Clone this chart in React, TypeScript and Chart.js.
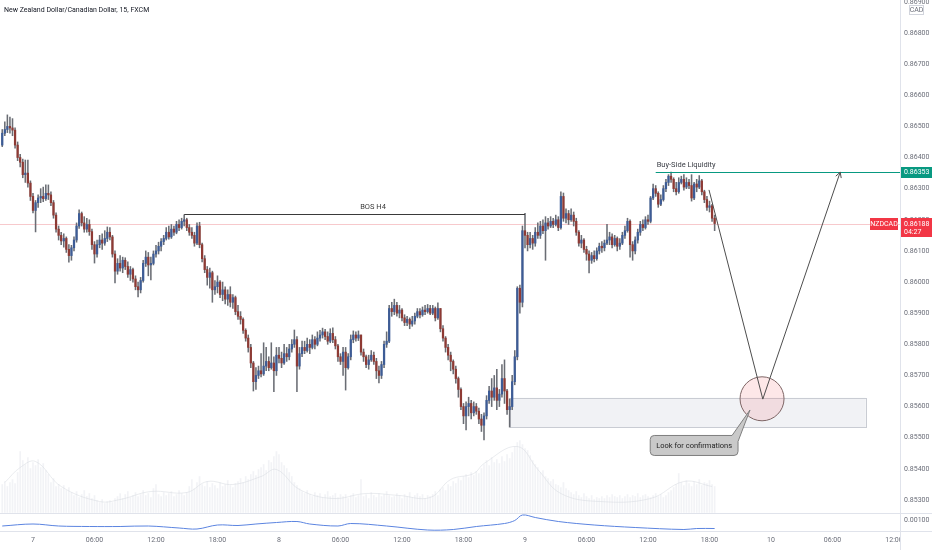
import React, { useEffect, useRef } from "react";
import { Chart, registerables } from "chart.js";

Chart.register(...registerables);

// ---------- DATA (prices in 1e-5 units) ----------
const TITLE = "New Zealand Dollar/Canadian Dollar, 15, FXCM";
const START_T = -12; // candle index of the first candle (15-min bars, 0 = day 7 00:00)
const FIRST_OPEN = 86440;

const closes = [
  86478, 86490, 86500, 86495, 86488, 86440, 86400,
  86385, 86345, 86350, 86318, 86275, 86230, 86255,
  86270, 86275, 86268, 86285, 86280, 86255,
  86215, 86170, 86150, 86132, 86140,
  86105, 86085, 86110,
  86135, 86180, 86220, 86190,
  86170, 86185, 86162,
  86120, 86090,
  86120, 86135, 86125, 86140, 86160, 86145,
  86090, 86035,
  86060, 86045, 86070, 86050, 86025, 86040,
  86010, 85985, 85975, 86005,
  86060, 86080, 86055, 86060, 86090,
  86100, 86115, 86130,
  86140, 86160, 86145, 86170, 86160,
  86185, 86175, 86195, 86200,
  86175, 86160, 86150, 86125, 86180, 86120,
  86075, 86040, 86015, 86030, 85975, 85985,
  86000, 85960, 85975, 85945, 85960, 85935, 85950, 85905, 85890,
  85880, 85845, 85820, 85790, 85740, 85680, 85700,
  85715, 85705, 85730, 85745, 85725, 85740, 85715, 85765,
  85755, 85740, 85770, 85760, 85785, 85800, 85815, 85730, 85770,
  85790, 85780, 85800, 85790, 85815, 85800, 85820,
  85830, 85840, 85825, 85810, 85835, 85815,
  85795, 85760, 85745, 85775, 85725,
  85760, 85815, 85830, 85820, 85830,
  85775, 85760, 85735, 85750, 85765, 85745, 85715, 85700, 85735,
  85800, 85810, 85915, 85905, 85925,
  85900, 85910, 85885, 85870, 85880, 85865, 85875, 85890, 85905,
  85895, 85910, 85905, 85915, 85900, 85915, 85885, 85915,
  85850, 85820, 85790, 85765, 85745, 85720, 85690, 85655,
  85600, 85570, 85600, 85610, 85580, 85600, 85585, 85560, 85540, 85570, 85620,
  85650, 85630, 85660, 85620, 85640, 85690, 85650, 85590, 85600, 85680,
  85760, 85980, 85935, 86165, 86150,
  86120, 86140, 86125, 86160, 86150, 86180, 86165, 86190, 86180, 86195, 86185, 86200, 86175,
  86275, 86205, 86220, 86200, 86215, 86195, 86160,
  86125, 86135, 86105, 86090, 86070, 86085, 86075, 86100, 86115,
  86110, 86125, 86135, 86145, 86120, 86140, 86115, 86125, 86150, 86165,
  86195, 86120, 86100, 86135, 86160, 86185, 86175, 86200, 86195,
  86270, 86300, 86285, 86250, 86265, 86300, 86320,
  86340, 86330, 86300, 86290, 86320, 86330, 86305, 86320, 86310, 86270, 86315, 86305, 86325,
  86290, 86265, 86240, 86245, 86205, 86188,
];

const highs = [
  86490, 86515, 86537, 86530, 86525, 86495, 86450,
  86410, 86395, 86392, 86392, 86325, 86285, 86262,
  86280, 86300, 86305, 86312, 86312, 86290,
  86262, 86222, 86180, 86160, 86155,
  86145, 86120, 86118,
  86145, 86190, 86232, 86225,
  86210, 86205, 86200,
  86170, 86130,
  86135, 86150, 86155, 86165, 86177, 86175,
  86150, 86100,
  86075, 86085, 86080, 86078, 86065, 86050,
  86045, 86020, 86000, 86015,
  86070, 86100, 86095, 86080, 86100,
  86118, 86128, 86140,
  86150, 86175, 86180, 86185, 86180,
  86195, 86200, 86205, 86216,
  86205, 86185, 86175, 86160, 86190, 86192,
  86125, 86085, 86050, 86045, 86035, 86005,
  86020, 86005, 86000, 85985, 85975, 85985, 85960, 85955, 85925,
  85905, 85885, 85850, 85830, 85800, 85745, 85725,
  85730, 85770, 85805, 85790, 85760, 85805, 85760, 85790,
  85790, 85775, 85800, 85790, 85800, 85815, 85846, 85825, 85790,
  85810, 85810, 85820, 85815, 85830, 85825, 85840,
  85845, 85852, 85848, 85840, 85850, 85853,
  85825, 85800, 85770, 85790, 85790,
  85770, 85830, 85843, 85840, 85843,
  85830, 85785, 85765, 85765, 85780, 85775, 85755, 85730, 85745,
  85810, 85840, 85925, 85935, 85945,
  85935, 85925, 85915, 85895, 85890, 85885, 85890, 85900, 85915,
  85915, 85920, 85925, 85928, 85925, 85925, 85920, 85933,
  85915, 85860, 85825, 85800, 85775, 85750, 85730, 85695,
  85660, 85610, 85615, 85630, 85620, 85615, 85610, 85595, 85575, 85580, 85635,
  85665, 85690, 85700, 85720, 85655, 85735, 85750, 85655, 85625, 85700,
  85780, 85985, 85990, 86180, 86221,
  86160, 86160, 86150, 86175, 86190, 86195, 86200, 86210, 86205, 86210, 86205, 86215, 86210,
  86290, 86286, 86235, 86230, 86235, 86225, 86205,
  86165, 86150, 86140, 86115, 86100, 86095, 86100, 86110, 86125,
  86130, 86135, 86185, 86160, 86155, 86150, 86145, 86140, 86160, 86180,
  86205, 86200, 86130, 86145, 86170, 86195, 86200, 86210, 86215,
  86275, 86315, 86310, 86290, 86280, 86310, 86330,
  86345, 86353, 86335, 86320, 86335, 86340, 86345, 86335, 86330, 86345, 86320, 86330, 86342,
  86330, 86295, 86275, 86260, 86250, 86215,
];

const lows = [
  86435, 86470, 86480, 86478, 86470, 86430, 86390,
  86370, 86335, 86320, 86305, 86262, 86222, 86161,
  86240, 86255, 86258, 86262, 86265, 86245,
  86205, 86160, 86135, 86120, 86112,
  86095, 86064, 86070,
  86100, 86128, 86172, 86180,
  86160, 86160, 86150,
  86105, 86061,
  86080, 86110, 86105, 86118, 86130, 86135,
  86080, 85997,
  86025, 86035, 86030, 86040, 86015, 86005,
  86000, 85975, 85952, 85965,
  86000, 86050, 86020, 86007, 86055,
  86080, 86090, 86100,
  86120, 86135, 86138, 86140, 86150,
  86155, 86165, 86170, 86180,
  86165, 86150, 86140, 86115, 86120, 86110,
  86065, 86030, 85990, 85980, 85935, 85960,
  85965, 85950, 85940, 85930, 85925, 85920, 85915, 85895, 85880,
  85865, 85835, 85810, 85775, 85725, 85650, 85655,
  85690, 85695, 85700, 85715, 85715, 85720, 85648, 85700,
  85740, 85725, 85735, 85745, 85750, 85775, 85790, 85648, 85720,
  85760, 85770, 85775, 85770, 85785, 85785, 85795,
  85810, 85820, 85815, 85800, 85805, 85805,
  85785, 85745, 85735, 85700, 85653,
  85720, 85750, 85805, 85810, 85812,
  85765, 85745, 85725, 85720, 85745, 85735, 85690, 85676, 85690,
  85725, 85790, 85805, 85890, 85895,
  85890, 85885, 85875, 85860, 85860, 85850, 85858, 85865, 85885,
  85885, 85890, 85895, 85900, 85895, 85895, 85875, 85880,
  85840, 85810, 85775, 85750, 85715, 85705, 85675, 85630,
  85590, 85545, 85525, 85570, 85560, 85570, 85575, 85545, 85520, 85493, 85560,
  85610, 85600, 85620, 85590, 85600, 85630, 85610, 85575, 85534, 85590,
  85670, 85750, 85900, 85920, 86110,
  86100, 86110, 86105, 86115, 86140, 86140, 86155, 86070, 86170, 86175, 86175, 86180, 86165,
  86170, 86195, 86190, 86185, 86195, 86180, 86150,
  86115, 86110, 86095, 86070, 86029, 86060, 86065, 86070, 86090,
  86095, 86100, 86120, 86120, 86110, 86115, 86100, 86105, 86120, 86140,
  86160, 86080, 86070, 86090, 86125, 86150, 86165, 86170, 86185,
  86190, 86265, 86275, 86240, 86245, 86260, 86290,
  86310, 86320, 86290, 86280, 86285, 86315, 86295, 86300, 86300, 86260, 86265, 86290, 86300,
  86280, 86255, 86230, 86225, 86195, 86165,
];

const volumes = [
  28, 31, 26, 30, 33, 29,
  40, 61,
  52, 48, 55, 44, 50, 47, 53, 45, 49, 42,
  38, 30, 34, 26, 28, 24, 27, 22, 25,
  20, 17, 21, 15, 18, 22, 16, 19, 14, 17,
  12, 10, 13, 9, 11, 12, 10, 14,
  16, 19, 14, 18, 21, 15, 17, 20, 16, 18, 22, 17, 19, 15, 24, 28, 18, 16, 20, 17, 19, 21, 16, 18, 22, 19, 17, 20, 26, 33,
  24, 30, 36, 28, 26, 31, 25, 29, 27, 24, 30, 26, 28, 32, 27, 25, 29, 31, 34, 30, 36, 33, 38, 41, 37, 43,
  45, 48, 42, 52, 50, 56, 61, 58, 50, 47, 44, 40,
  36, 30, 27, 24, 21, 19, 22, 18, 16, 20, 17, 19, 15, 18, 21, 16, 17, 19, 15, 18,
  16, 18, 14, 17, 19, 15, 17, 33, 16, 18, 14, 20, 17, 15, 19, 16, 18, 21, 17, 15, 16, 19, 17, 14, 18, 16, 20, 15, 17, 19, 16, 18, 14, 17, 16,
  18, 21, 17, 23, 25, 22, 28, 26, 31, 29, 34, 32, 36, 38, 35, 40, 37, 41, 39,
  44, 48, 52, 47, 55, 50, 53, 49, 56, 51, 58, 54,
  60, 66, 70, 72, 68, 64, 62, 57,
  52, 48, 45, 40, 42, 36, 34, 31, 33, 28, 27, 25,
  30, 24, 22, 20, 18, 21, 17, 15, 19, 16, 14, 17, 13, 15, 14,
  16, 14, 17, 15, 18, 16, 15, 17, 14, 16, 18, 15, 17, 16, 19, 15, 17, 18, 16, 15, 17, 19, 16, 18, 15, 17, 20, 22, 25, 28, 39,
  30, 27, 32, 29, 26, 31, 28, 33, 27, 30, 29, 32, 28, 26,
];

const volMaT = [-11, -5, 1, 11, 26, 34, 46, 60, 68, 78, 89, 95, 104, 117, 130, 143, 155, 163, 172, 176, 189, 197, 206, 221, 241, 254, 265];
const volMaV = [30, 45, 51, 26, 11, 13, 21, 20, 31, 28, 36, 43, 23, 14, 19, 17, 15, 33, 39, 49, 66, 43, 19, 11, 14, 31, 26];

const indT = [-12, 0, 10, 22, 34, 45, 57, 64, 72, 80, 87, 95, 103, 108, 119, 124, 138, 154, 164, 173, 184, 188, 191, 196, 205, 219, 235, 254, 259, 266];
const indV = [0.00088, 0.00092, 0.00088, 0.00087, 0.00087, 0.00088, 0.00084, 0.00082, 0.0009, 0.00089, 0.00092, 0.00095, 0.00097, 0.00092, 0.00088, 0.00093, 0.00088, 0.0008, 0.00081, 0.00087, 0.00093, 0.00099, 0.0011, 0.00105, 0.00097, 0.0009, 0.00085, 0.00081, 0.00083, 0.00083];
const IND_LABEL_VALUE = 0.001;

const timeTickValues = [0, 24, 48, 72, 96, 120, 144, 168, 192, 216, 240, 264, 288, 312, 336];
const timeTickLabels = ["7", "06:00", "12:00", "18:00", "8", "06:00", "12:00", "18:00", "9", "06:00", "12:00", "18:00", "10", "06:00", "12:00"];
const priceTicks = [0.853, 0.854, 0.855, 0.856, 0.857, 0.858, 0.859, 0.86, 0.861, 0.862, 0.863, 0.864, 0.865, 0.866, 0.867, 0.868, 0.869];

// annotations (data units: candle index, price)
const BOS_LEVEL = 0.86219;
const BOS_T = [59, 192];
const BOS_TEXT_T = 132.7;
const BUY_SIDE_LEVEL = 0.86353;
const BUY_SIDE_T = 243;
const ZONE_T = [186, 325];
const ZONE_PRICE = [0.85534, 0.85628];
const PATH_T = [263.8, 284.8, 315];
const PATH_P = [0.86296, 0.85624, 0.86353];
const CIRCLE_T = 284.5;
const CIRCLE_P = 0.85625;
const CALLOUT_T = 258;
const CALLOUT_P = 0.85475;
const CALLOUT_TIP_T = 279.8;
const CALLOUT_TIP_P = 0.85589;
const CALLOUT_TEXT = "Look for confirmations";
const SYMBOL = "NZDCAD";
const COUNTDOWN = "04:27";
const CURRENCY = "CAD";

// view ranges
const X_MIN = -12.878;
const X_MAX = 338.34;
const PRICE_MIN = 0.852003;
const PRICE_MAX = 0.86906;

const FONT = "'Liberation Sans Narrow', 'Arial Narrow', Roboto, sans-serif";
const UP = "#3d5c96";
const DOWN = "#8e3a34";
const WICK = "#6a6d74";
const AXIS_TXT = "#6a6d78";
const LINE_GRAY = "#e0e3eb";

export default function App() {
  const ref = useRef<HTMLCanvasElement>(null);

  useEffect(() => {
    document.body.style.margin = "0";
    const canvas = ref.current!;
    const P = (v: number) => v / 1e5;
    const ts = closes.map((_, i) => START_T + i);
    const opens = closes.map((_, i) => (i === 0 ? FIRST_OPEN : closes[i - 1]));
    const isUp = (i: number) => closes[i] >= opens[i];
    const lastClose = P(closes[closes.length - 1]);

    const annot = {
      id: "annot",
      beforeDatasetsDraw(chart: any) {
        const { ctx, scales, chartArea } = chart;
        const x = scales.x, y = scales.y;
        ctx.save();
        // zone
        const x1 = x.getPixelForValue(ZONE_T[0]);
        const x2 = x.getPixelForValue(ZONE_T[1]);
        const y1 = y.getPixelForValue(ZONE_PRICE[1]);
        const y2 = y.getPixelForValue(ZONE_PRICE[0]);
        ctx.fillStyle = "rgba(236,237,241,0.75)";
        ctx.fillRect(x1, y1, x2 - x1, y2 - y1);
        ctx.strokeStyle = "#c9ccd3";
        ctx.lineWidth = 1;
        ctx.strokeRect(Math.round(x1) + 0.5, Math.round(y1) + 0.5, Math.round(x2 - x1), Math.round(y2 - y1));
        // current price line
        const yc = Math.round(y.getPixelForValue(lastClose)) + 0.5;
        ctx.strokeStyle = "#f7c9cc";
        ctx.beginPath();
        ctx.moveTo(chartArea.left, yc);
        ctx.lineTo(chartArea.right, yc);
        ctx.stroke();
        ctx.restore();
      },
      afterDatasetsDraw(chart: any) {
        const { ctx, scales, chartArea } = chart;
        const x = scales.x, y = scales.y;
        ctx.save();
        ctx.font = `7.5px ${FONT}`;
        // BOS line
        const by = Math.round(y.getPixelForValue(BOS_LEVEL)) + 0.5;
        ctx.strokeStyle = "#3a3a3a";
        ctx.lineWidth = 1;
        ctx.beginPath();
        ctx.moveTo(x.getPixelForValue(BOS_T[0]), by);
        ctx.lineTo(x.getPixelForValue(BOS_T[1]), by);
        ctx.stroke();
        ctx.fillStyle = "#3a3a3a";
        ctx.textAlign = "center";
        ctx.textBaseline = "middle";
        ctx.fillText("BOS H4", x.getPixelForValue(BOS_TEXT_T), by - 7);
        // Buy side liquidity
        const ly = Math.round(y.getPixelForValue(BUY_SIDE_LEVEL)) + 0.5;
        ctx.strokeStyle = "#089981";
        ctx.beginPath();
        ctx.moveTo(x.getPixelForValue(BUY_SIDE_T), ly);
        ctx.lineTo(chartArea.right, ly);
        ctx.stroke();
        ctx.fillStyle = "#3a3d45";
        ctx.textAlign = "left";
        ctx.fillText("Buy-Side Liquidity", x.getPixelForValue(BUY_SIDE_T) + 1, ly - 7);
        // circle
        const cx = x.getPixelForValue(CIRCLE_T), cy = y.getPixelForValue(CIRCLE_P);
        ctx.beginPath();
        ctx.arc(cx, cy, 22, 0, Math.PI * 2);
        ctx.fillStyle = "rgba(242,54,69,0.12)";
        ctx.fill();
        ctx.strokeStyle = "#7d6464";
        ctx.stroke();
        // path arrows
        const pts = PATH_T.map((t, i) => [x.getPixelForValue(t), y.getPixelForValue(PATH_P[i])]);
        ctx.strokeStyle = "#4d4d4d";
        ctx.beginPath();
        ctx.moveTo(pts[0][0], pts[0][1]);
        ctx.lineTo(pts[1][0], pts[1][1]);
        ctx.lineTo(pts[2][0], pts[2][1]);
        ctx.stroke();
        const [ax, ay] = pts[2];
        const ang = Math.atan2(ay - pts[1][1], ax - pts[1][0]);
        ctx.beginPath();
        for (const s of [-1, 1]) {
          const a = ang + Math.PI + s * 0.5;
          ctx.moveTo(ax, ay);
          ctx.lineTo(ax + 6 * Math.cos(a), ay + 6 * Math.sin(a));
        }
        ctx.stroke();
        // callout
        const tw = ctx.measureText(CALLOUT_TEXT).width;
        const ccx = x.getPixelForValue(CALLOUT_T), ccy = y.getPixelForValue(CALLOUT_P);
        const w = tw + 12, h = 20, r = 4;
        const L = ccx - w / 2, R = ccx + w / 2, T = ccy - h / 2, B = ccy + h / 2;
        const tx = x.getPixelForValue(CALLOUT_TIP_T), ty = y.getPixelForValue(CALLOUT_TIP_P);
        ctx.beginPath();
        ctx.moveTo(L + r, T);
        ctx.lineTo(R - 6, T);
        ctx.lineTo(tx, ty);
        ctx.lineTo(R, T + 6);
        ctx.lineTo(R, B - r);
        ctx.arcTo(R, B, R - r, B, r);
        ctx.lineTo(L + r, B);
        ctx.arcTo(L, B, L, B - r, r);
        ctx.lineTo(L, T + r);
        ctx.arcTo(L, T, L + r, T, r);
        ctx.closePath();
        ctx.fillStyle = "#c9c9c9";
        ctx.fill();
        ctx.strokeStyle = "#7f7f7f";
        ctx.stroke();
        ctx.fillStyle = "#1f1f1f";
        ctx.textAlign = "center";
        ctx.fillText(CALLOUT_TEXT, ccx, ccy + 0.5);
        ctx.restore();
      },
      afterDraw(chart: any) {
        const { ctx, scales, chartArea } = chart;
        const y = scales.y, yi = scales.yi;
        const W = chart.width, H = chart.height;
        ctx.save();
        // cover time labels under price axis
        ctx.fillStyle = "#ffffff";
        ctx.fillRect(chartArea.right + 0.5, chartArea.bottom + 1, W - chartArea.right, H - chartArea.bottom);
        // separators
        ctx.strokeStyle = LINE_GRAY;
        ctx.lineWidth = 1;
        ctx.beginPath();
        ctx.moveTo(0, 513.5); ctx.lineTo(W, 513.5);
        ctx.moveTo(0, chartArea.bottom + 0.5); ctx.lineTo(W, chartArea.bottom + 0.5);
        ctx.moveTo(chartArea.right + 0.5, 0); ctx.lineTo(chartArea.right + 0.5, H);
        ctx.stroke();
        // indicator label
        ctx.font = `7px ${FONT}`;
        ctx.textBaseline = "middle";
        ctx.textAlign = "left";
        ctx.fillStyle = AXIS_TXT;
        ctx.fillText(IND_LABEL_VALUE.toFixed(5), chartArea.right + 4, yi.getPixelForValue(IND_LABEL_VALUE));
        // CAD
        ctx.strokeStyle = "#d1d4dc";
        ctx.strokeRect(909.5, 5.5, 14, 9);
        ctx.textAlign = "center";
        ctx.fillText(CURRENCY, 916.5, 10.5);
        // buy side label
        const ly = y.getPixelForValue(BUY_SIDE_LEVEL);
        ctx.fillStyle = "#089981";
        ctx.fillRect(chartArea.right + 1, Math.round(ly) - 5, W - chartArea.right - 1, 11);
        ctx.fillStyle = "#ffffff";
        ctx.textAlign = "left";
        ctx.fillText(BUY_SIDE_LEVEL.toFixed(5), chartArea.right + 4, Math.round(ly) + 0.5);
        // current price labels
        const yc = Math.round(y.getPixelForValue(lastClose));
        ctx.fillStyle = "#f23645";
        ctx.fillRect(chartArea.right + 1, yc - 6, W - chartArea.right - 1, 19);
        ctx.fillRect(870, yc - 6, 28, 12);
        ctx.fillStyle = "#ffffff";
        ctx.fillText(lastClose.toFixed(5), chartArea.right + 4, yc + 0.5);
        ctx.fillText(COUNTDOWN, chartArea.right + 4, yc + 8.5);
        ctx.textAlign = "center";
        ctx.fillText(SYMBOL, 884, yc + 0.5);
        // title
        ctx.font = `7px ${FONT}`;
        ctx.fillStyle = "#131722";
        ctx.textAlign = "left";
        ctx.fillText(TITLE, 4, 10);
        ctx.restore();
      },
    };

    const chart = new Chart(canvas, {
      type: "bar",
      data: {
        datasets: [
          {
            type: "bar",
            label: "body",
            data: ts.map((t, i) => ({ x: t, y: [P(opens[i]), P(closes[i])] })) as any,
            backgroundColor: (c: any) => (isUp(c.dataIndex) ? UP : DOWN),
            barThickness: 1.6,
            minBarLength: 1,
            grouped: false,
            yAxisID: "y",
            order: 0,
          },
          {
            type: "bar",
            label: "wick",
            data: ts.map((t, i) => ({ x: t, y: [P(lows[i]), P(highs[i])] })) as any,
            backgroundColor: WICK,
            barThickness: 0.9,
            grouped: false,
            yAxisID: "y",
            order: 1,
          },
          {
            type: "line",
            label: "atr",
            data: indT.map((t, i) => ({ x: t, y: indV[i] })),
            borderColor: "#5b84e0",
            borderWidth: 1,
            pointRadius: 0,
            tension: 0.35,
            yAxisID: "yi",
            order: 2,
          },
          {
            type: "line",
            label: "volMA",
            data: volMaT.map((t, i) => ({ x: t, y: volMaV[i] })),
            borderColor: "rgba(214,217,224,0.5)",
            borderWidth: 1,
            pointRadius: 0,
            tension: 0.4,
            yAxisID: "yv",
            order: 3,
          },
          {
            type: "bar",
            label: "volume",
            data: ts.map((t, i) => ({ x: t, y: volumes[i] })),
            backgroundColor: "rgba(214,217,226,0.32)",
            barThickness: 1,
            grouped: false,
            yAxisID: "yv",
            order: 4,
          },
        ],
      },
      options: {
        responsive: false,
        animation: false,
        devicePixelRatio: 1,
        events: [],
        layout: { padding: 0 },
        plugins: { legend: { display: false }, tooltip: { enabled: false } },
        scales: {
          x: {
            type: "linear",
            min: X_MIN,
            max: X_MAX,
            offset: false,
            grid: { display: false, drawTicks: false },
            border: { display: false },
            afterBuildTicks: (s: any) => {
              s.ticks = timeTickValues.map((v) => ({ value: v }));
            },
            afterFit: (s: any) => {
              s.height = 19;
              s.paddingLeft = 0;
              s.paddingRight = 0;
            },
            ticks: {
              autoSkip: false,
              maxRotation: 0,
              padding: 5,
              color: AXIS_TXT,
              font: { family: FONT, size: 7 },
              callback: (v: any) => {
                const k = timeTickValues.indexOf(Number(v));
                return k >= 0 ? timeTickLabels[k] : "";
              },
            },
          },
          y: {
            type: "linear",
            position: "right",
            min: PRICE_MIN,
            max: PRICE_MAX,
            grid: { display: false, drawTicks: false },
            border: { display: false },
            afterBuildTicks: (s: any) => {
              s.ticks = priceTicks.map((v) => ({ value: v }));
            },
            afterFit: (s: any) => {
              s.width = 32;
              s.paddingTop = 0;
              s.paddingBottom = 0;
            },
            ticks: {
              autoSkip: false,
              padding: 4,
              color: AXIS_TXT,
              font: { family: FONT, size: 7 },
              callback: (v: any) => Number(v).toFixed(5),
            },
          },
          yv: { type: "linear", display: false, min: -18.5, max: 512.5 },
          yi: { type: "linear", display: false, min: 0.00078, max: 0.0114 },
        },
      } as any,
      plugins: [annot],
    });

    return () => chart.destroy();
  }, []);

  return (
    <div style={{ width: 932, height: 550, background: "#ffffff" }}>
      <canvas ref={ref} width={932} height={550} style={{ display: "block" }} />
    </div>
  );
}
